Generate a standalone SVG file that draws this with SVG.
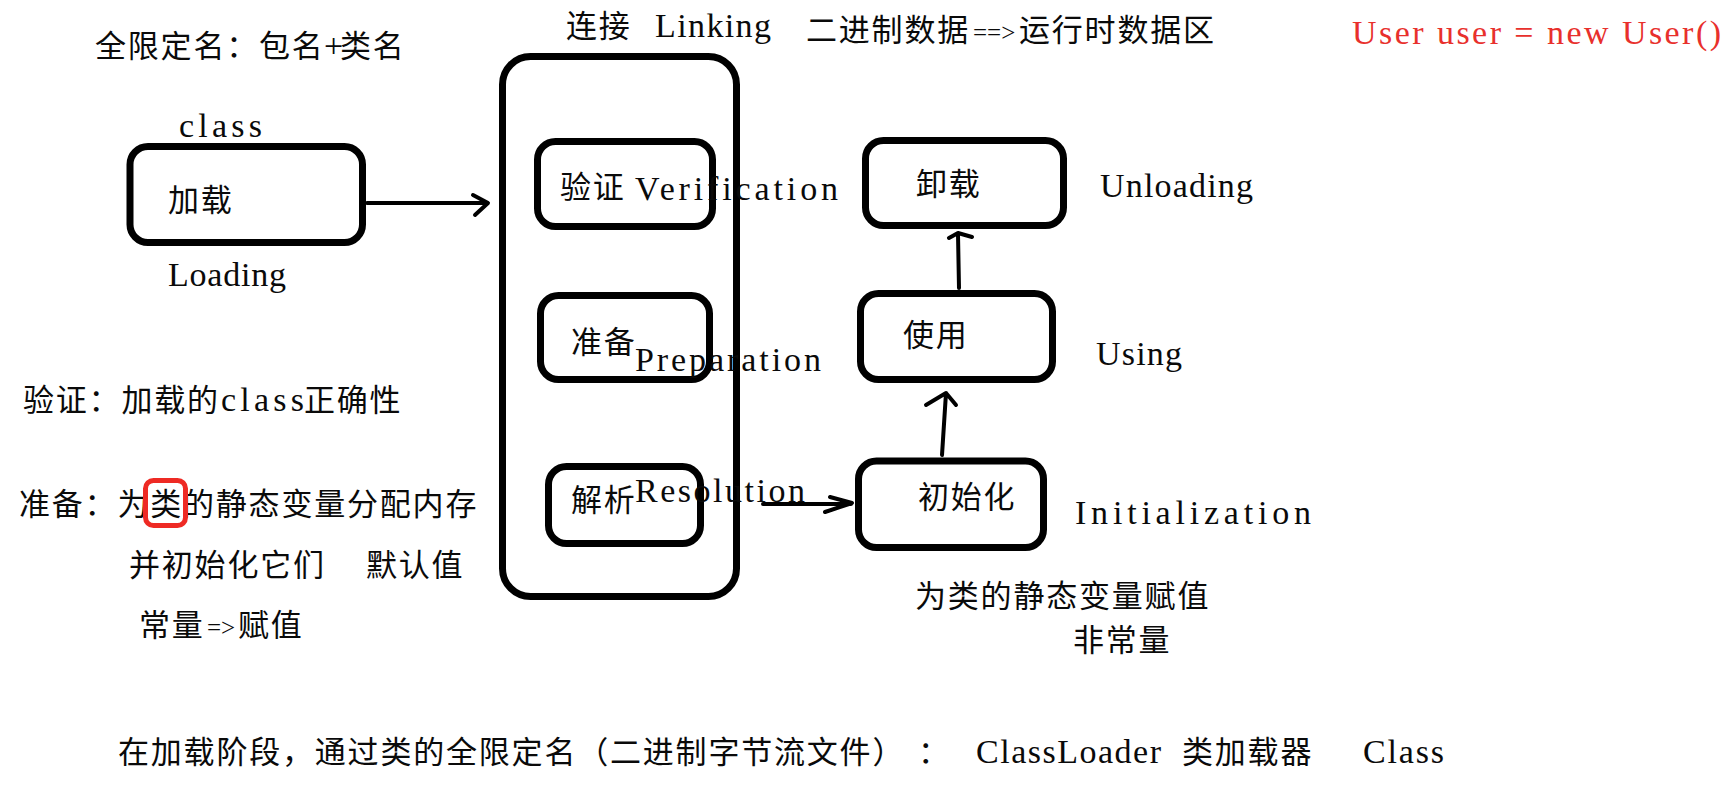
<svg xmlns="http://www.w3.org/2000/svg" width="1735" height="795" viewBox="0 0 1735 795">
<style>
  .bg { fill: #ffffff; }
  .node { fill: none; stroke: #000; stroke-width: 7; }
  .hl { fill: none; stroke: #ee2a24; stroke-width: 5; }
  .edge { fill: none; stroke: #000; stroke-width: 4; stroke-linecap: round; stroke-linejoin: round; }
  .c { font-family: "Noto Sans CJK SC", "Noto Sans", sans-serif; font-size: 31px; letter-spacing: 1.8px; fill: #0a0a0a; }
  .l { font-family: "Liberation Serif", "DejaVu Serif", serif; font-size: 34px; letter-spacing: 0px; fill: #0a0a0a; }
  .op { font-size: 25px; }
  .red { fill: #e8302c; }
</style>
<rect class="bg" x="0" y="0" width="1735" height="795"/>

<!-- annotations -->
<g id="notes">
  <text class="c" x="95" y="57">全限定名：包名<tspan class="l" x="324" y="57">+</tspan><tspan x="340" y="57">类名</tspan></text>
  <text class="c" x="566" y="37">连接 <tspan class="l" x="655" y="37" textLength="116">Linking</tspan><tspan x="806" y="41">二进制数据</tspan><tspan class="l op" x="973" y="41">==&gt;</tspan><tspan x="1019" y="41">运行时数据区</tspan></text>
  <text class="l red" x="1352" y="44" textLength="369">User user = new User()</text>
  <text class="c" x="23" y="411">验证：加载的<tspan class="l" x="221" y="411" textLength="83">class</tspan><tspan x="304" y="411">正确性</tspan></text>
  <text class="c" x="19" y="515">准备：为类的静态变量分配内存</text>
  <rect class="hl" x="145.5" y="480.5" width="40" height="45" rx="8"/>
  <text class="c" x="129" y="576">并初始化它们 <tspan x="366" y="576">默认值</tspan></text>
  <text class="c" x="139" y="636">常量<tspan class="l op" x="207" y="636">=&gt;</tspan><tspan x="238" y="636">赋值</tspan></text>
  <text class="c" x="915" y="607">为类的静态变量赋值</text>
  <text class="c" x="1073" y="651">非常量</text>
  <text class="c" x="118" y="763">在加载阶段，通过类的全限定名（二进制字节流文件）<tspan x="918" y="763">：</tspan><tspan class="l" x="976" y="763" textLength="185">ClassLoader</tspan><tspan x="1182" y="763">类加载器</tspan><tspan class="l" x="1363" y="763" textLength="81">Class</tspan></text>
</g>

<!-- connectors -->
<g id="connectors">
  <path class="edge" d="M367 203 L487 203 M473 195 L488 203 L475 215"/>
  <path class="edge" d="M763 504 L851 504 M830 497 L852 503 L825 512"/>
  <path class="edge" d="M942 455 L946 393 M926 405 L946 393 L956 405"/>
  <path class="edge" d="M959 288 L958 234 M949 238 L958 233 L972 237"/>
</g>

<!-- loading -->
<g id="node-loading">
  <rect class="node" x="130" y="146.5" width="232.5" height="96" rx="18"/>
  <text class="l" x="179" y="137" textLength="83">class</text>
  <text class="c" x="168" y="211">加载</text>
  <text class="l" x="168" y="286" textLength="118">Loading</text>
</g>

<!-- linking container -->
<g id="node-linking">
  <rect class="node" x="502.5" y="56.5" width="234" height="540" rx="28"/>
</g>

<g id="node-verification">
  <rect class="node" x="537.5" y="141.5" width="175" height="85" rx="18"/>
  <text class="c" x="560" y="198">验证 <tspan class="l" x="635" y="200" textLength="203">Verification</tspan></text>
</g>

<g id="node-preparation">
  <rect class="node" x="540.5" y="295.5" width="169" height="84" rx="18"/>
  <text class="c" x="571" y="353">准备<tspan class="l" x="635" y="371" textLength="186">Preparation</tspan></text>
</g>

<g id="node-resolution">
  <rect class="node" x="548.5" y="466.5" width="152" height="77" rx="18"/>
  <text class="c" x="571" y="511">解析<tspan class="l" x="635" y="502" textLength="170">Resolution</tspan></text>
</g>

<g id="node-initialization">
  <rect class="node" x="858.5" y="461" width="185" height="86.5" rx="18"/>
  <text class="c" x="918" y="508">初始化</text>
  <text class="l" x="1075" y="524" textLength="236">Initialization</text>
</g>

<g id="node-using">
  <rect class="node" x="860.5" y="293.5" width="192" height="86" rx="18"/>
  <text class="c" x="903" y="346">使用</text>
  <text class="l" x="1096" y="365" textLength="86">Using</text>
</g>

<g id="node-unloading">
  <rect class="node" x="865.5" y="140.5" width="198" height="85" rx="18"/>
  <text class="c" x="916" y="195">卸载</text>
  <text class="l" x="1100" y="197" textLength="153">Unloading</text>
</g>
</svg>
